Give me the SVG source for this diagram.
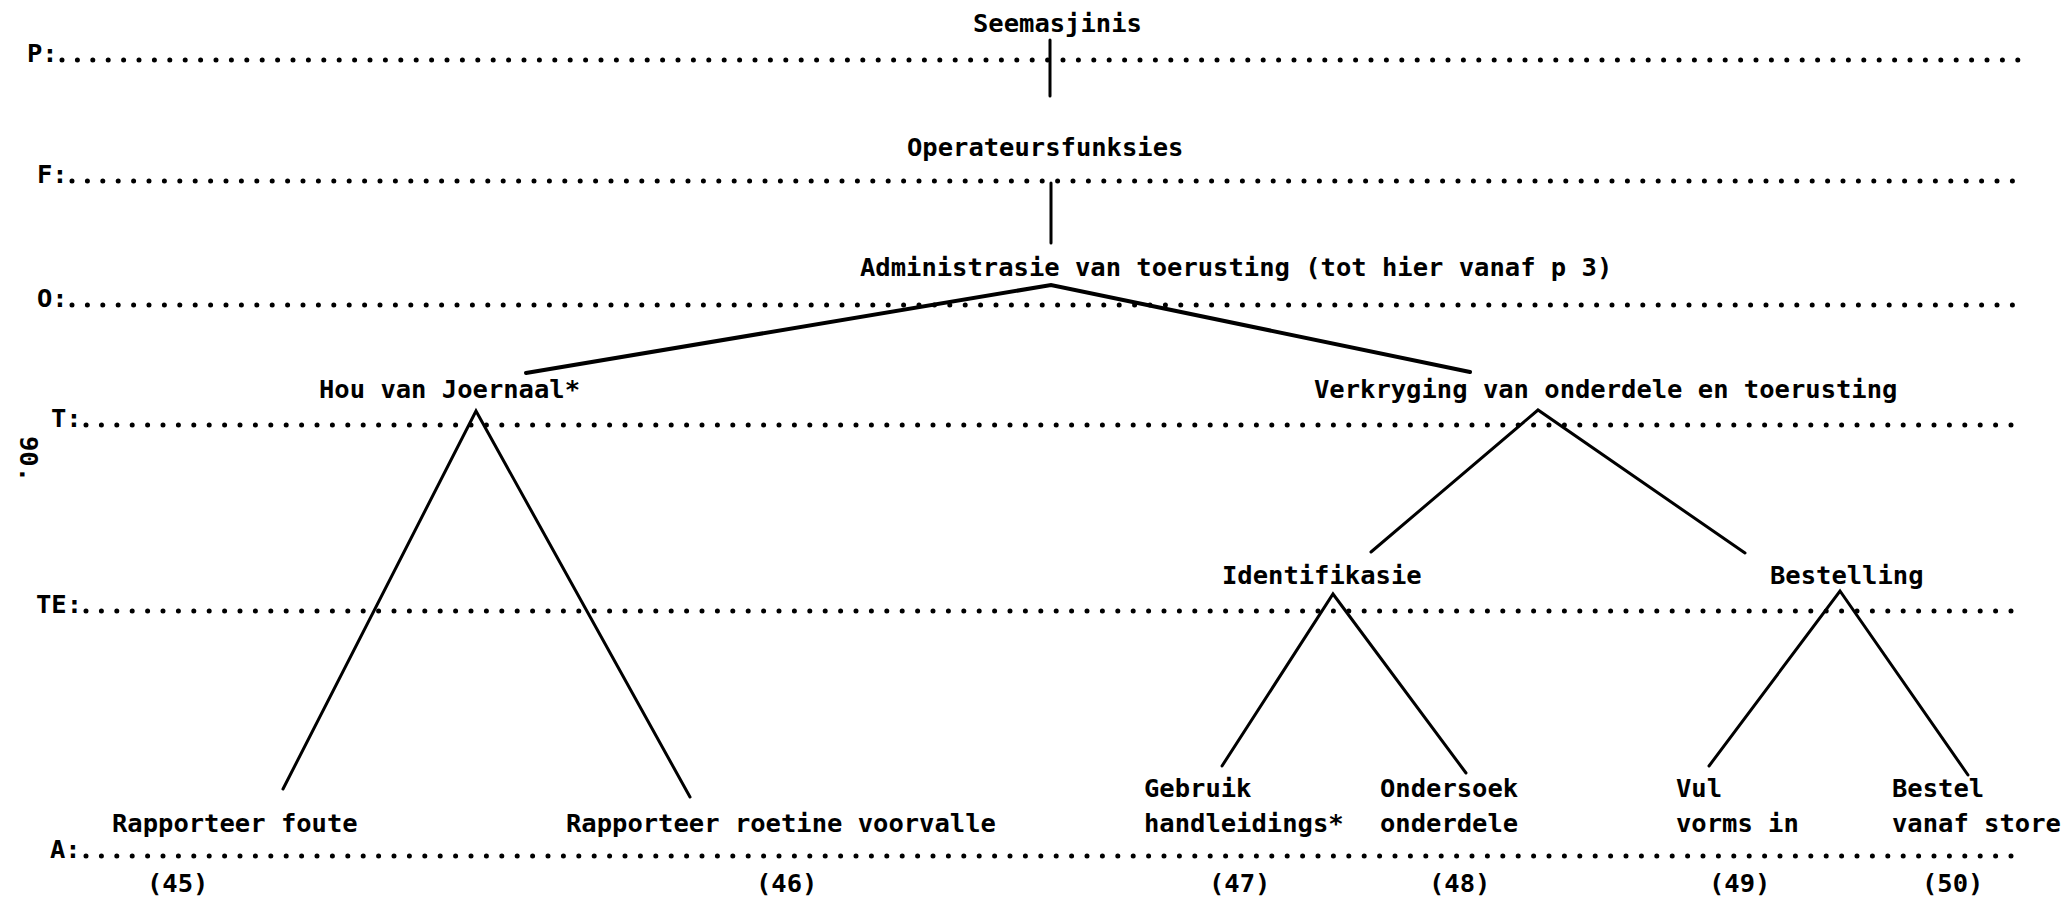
<svg xmlns="http://www.w3.org/2000/svg" width="2061" height="903" viewBox="0 0 2061 903">
<style>
.t{font-family:"DejaVu Sans Mono","Liberation Mono",monospace;font-size:25.5px;font-weight:bold;fill:#000}
.d{stroke:#000;stroke-width:5;stroke-dasharray:0 15.4;stroke-linecap:round;fill:none}
.c{stroke:#000;stroke-width:3;fill:none;stroke-linecap:round}
.c2{stroke:#000;stroke-width:4;fill:none;stroke-linecap:round}
</style>
<rect width="2061" height="903" fill="#fff"/>
<g id="levels">
<text class="t" x="27" y="62">P:</text><line class="d" x1="62" y1="60" x2="2024" y2="60"/>
<text class="t" x="37" y="183">F:</text><line class="d" x1="72" y1="181" x2="2024" y2="181"/>
<text class="t" x="37" y="307">O:</text><line class="d" x1="72" y1="305" x2="2024" y2="305"/>
<text class="t" x="51" y="427">T:</text><line class="d" x1="86" y1="425" x2="2024" y2="425"/>
<text class="t" x="36" y="613">TE:</text><line class="d" x1="86" y1="611" x2="2024" y2="611"/>
<text class="t" x="50" y="858">A:</text><line class="d" x1="86" y1="856" x2="2024" y2="856"/>
<text class="t" transform="translate(20,436) rotate(90)" x="0" y="0">90.</text>
</g>
<g id="connectors">
<line class="c" x1="1050" y1="40" x2="1050" y2="96"/>
<line class="c" x1="1051" y1="183" x2="1051" y2="243"/>
<polyline class="c2" points="526,373 1051,285 1470,372"/>
<polyline class="c" points="283,789 476,411 690,797"/>
<polyline class="c" points="1371,552 1538,410 1745,553"/>
<polyline class="c" points="1222,766 1333,594 1466,773"/>
<polyline class="c" points="1709,766 1840,591 1968,775"/>
</g>
<g id="n-seemasjinis"><text class="t" x="973" y="32">Seemasjinis</text></g>
<g id="n-operateursfunksies"><text class="t" x="907" y="156">Operateursfunksies</text></g>
<g id="n-administrasie"><text class="t" x="860" y="276">Administrasie van toerusting (tot hier vanaf p 3)</text></g>
<g id="n-hou"><text class="t" x="319" y="398">Hou van Joernaal*</text></g>
<g id="n-verkryging"><text class="t" x="1314" y="398">Verkryging van onderdele en toerusting</text></g>
<g id="n-identifikasie"><text class="t" x="1222" y="584">Identifikasie</text></g>
<g id="n-bestelling"><text class="t" x="1770" y="584">Bestelling</text></g>
<g id="n-45"><text class="t" x="112" y="832">Rapporteer foute</text><text class="t" x="147" y="892">(45)</text></g>
<g id="n-46"><text class="t" x="566" y="832">Rapporteer roetine voorvalle</text><text class="t" x="756" y="892">(46)</text></g>
<g id="n-47"><text class="t" x="1144" y="797">Gebruik</text><text class="t" x="1144" y="832">handleidings*</text><text class="t" x="1209" y="892">(47)</text></g>
<g id="n-48"><text class="t" x="1380" y="797">Ondersoek</text><text class="t" x="1380" y="832">onderdele</text><text class="t" x="1429" y="892">(48)</text></g>
<g id="n-49"><text class="t" x="1676" y="797">Vul</text><text class="t" x="1676" y="832">vorms in</text><text class="t" x="1709" y="892">(49)</text></g>
<g id="n-50"><text class="t" x="1892" y="797">Bestel</text><text class="t" x="1892" y="832">vanaf store</text><text class="t" x="1922" y="892">(50)</text></g>
</svg>
